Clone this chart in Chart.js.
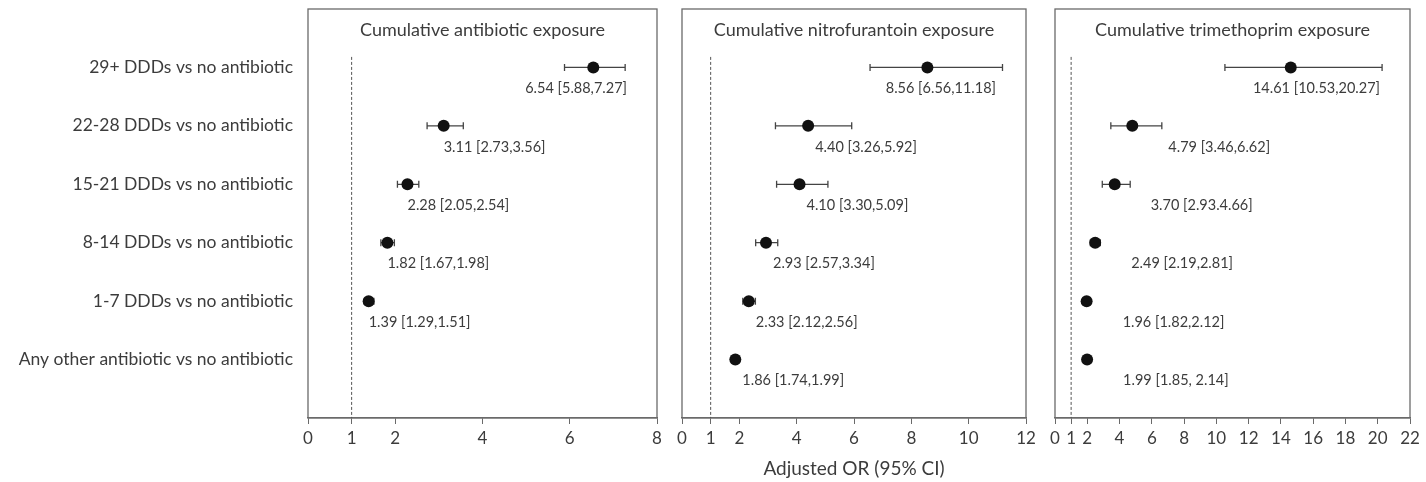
<!DOCTYPE html>
<html>
<head>
<meta charset="utf-8">
<script src="https://cdn.jsdelivr.net/npm/chart.js@4/dist/chart.umd.min.js"></script>
<style>
  body { margin: 0; background: #fff; }
  .wrap { position: relative; width: 1426px; height: 482px; }
  .panel { position: absolute; top: 0; height: 482px; }
</style>
</head>
<body>
<div class="wrap">
  <div class="panel" style="left:0;width:668px"><canvas id="c1"></canvas></div>
  <div class="panel" style="left:668px;width:374px"><canvas id="c2"></canvas></div>
  <div class="panel" style="left:1042px;width:384px"><canvas id="c3"></canvas></div>
</div>
<script>
// Row labels (top to bottom)
const categories = [
    '29+ DDDs vs no antibiotic',
    '22-28 DDDs vs no antibiotic',
    '15-21 DDDs vs no antibiotic',
    '8-14 DDDs vs no antibiotic',
    '1-7 DDDs vs no antibiotic',
    'Any other antibiotic vs no antibiotic'
];

// Cumulative antibiotic exposure
const abOR = [6.54, 3.11, 2.28, 1.82, 1.39, null];
const abLo = [5.88, 2.73, 2.05, 1.67, 1.29, null];
const abHi = [7.27, 3.56, 2.54, 1.98, 1.51, null];
const abText = ['6.54 [5.88,7.27]', '3.11 [2.73,3.56]', '2.28 [2.05,2.54]', '1.82 [1.67,1.98]', '1.39 [1.29,1.51]', null];
const abTicks = [0, 1, 2, 4, 6, 8];

// Cumulative nitrofurantoin exposure
const nfOR = [8.56, 4.40, 4.10, 2.93, 2.33, 1.86];
const nfLo = [6.56, 3.26, 3.30, 2.57, 2.12, 1.74];
const nfHi = [11.18, 5.92, 5.09, 3.34, 2.56, 1.99];
const nfText = ['8.56 [6.56,11.18]', '4.40 [3.26,5.92]', '4.10 [3.30,5.09]', '2.93 [2.57,3.34]', '2.33 [2.12,2.56]', '1.86 [1.74,1.99]'];
const nfTicks = [0, 1, 2, 4, 6, 8, 10, 12];

// Cumulative trimethoprim exposure
const tmOR = [14.61, 4.79, 3.70, 2.49, 1.96, 1.99];
const tmLo = [10.53, 3.46, 2.93, 2.19, 1.82, 1.85];
const tmHi = [20.27, 6.62, 4.66, 2.81, 2.12, 2.14];
const tmText = ['14.61 [10.53,20.27]', '4.79 [3.46,6.62]', '3.70 [2.93.4.66]', '2.49 [2.19,2.81]', '1.96 [1.82,2.12]', '1.99 [1.85, 2.14]'];
const tmTicks = [0, 1, 2, 4, 6, 8, 10, 12, 14, 16, 18, 20, 22];

const FONT = 'Lato, "Open Sans", sans-serif';
const TEXT = '#3c3c3c';
const LINE = '#6a6a6a';

// Draws the panel box, reference line, CI whiskers, value labels and panel title
const forestPlugin = {
    id: 'forest',
    beforeDatasetsDraw(chart, args, opts) {
        const { ctx, chartArea: a, scales: { x, y } } = chart;
        ctx.save();
        // box
        ctx.strokeStyle = LINE;
        ctx.lineWidth = 1.3;
        ctx.strokeRect(a.left, a.top, a.right - a.left, a.bottom - a.top);
        // dashed line at OR = 1
        ctx.strokeStyle = '#555';
        ctx.lineWidth = 1;
        ctx.setLineDash([3, 2]);
        ctx.beginPath();
        ctx.moveTo(x.getPixelForValue(1), y.getPixelForValue(-0.18));
        ctx.lineTo(x.getPixelForValue(1), a.bottom);
        ctx.stroke();
        ctx.setLineDash([]);
        // whiskers
        ctx.strokeStyle = '#444';
        ctx.lineWidth = 1.3;
        opts.lo.forEach((lo, i) => {
            if (lo == null) return;
            const x1 = x.getPixelForValue(lo);
            const x2 = x.getPixelForValue(opts.hi[i]);
            const py = y.getPixelForValue(i);
            ctx.beginPath();
            ctx.moveTo(x1, py); ctx.lineTo(x2, py);
            ctx.moveTo(x1, py - 3.5); ctx.lineTo(x1, py + 3.5);
            ctx.moveTo(x2, py - 3.5); ctx.lineTo(x2, py + 3.5);
            ctx.stroke();
        });
        ctx.restore();
    },
    afterDraw(chart, args, opts) {
        const { ctx, chartArea: a, scales: { x, y } } = chart;
        ctx.save();
        ctx.fillStyle = TEXT;
        ctx.textBaseline = 'middle';
        // title
        ctx.font = '18px ' + FONT;
        ctx.textAlign = 'center';
        ctx.fillText(opts.title, (a.left + a.right) / 2, a.top + 21);
        // value labels, kept inside the box
        ctx.font = '14.5px ' + FONT;
        ctx.textAlign = 'left';
        opts.text.forEach((t, i) => {
            if (t == null) return;
            const w = ctx.measureText(t).width;
            let lx = x.getPixelForValue(opts.or[i]) + opts.shift;
            if (lx + w > a.right - 30) lx = a.right - 30 - w;
            ctx.fillText(t, lx, y.getPixelForValue(i) + 21);
        });
        ctx.restore();
    }
};

function makePanel(id, or, lo, hi, text, ticks, title, shift, pad, showY, showTitle) {
    const points = [];
    or.forEach((v, i) => { if (v != null) points.push({ x: v, y: i }); });
    return new Chart(document.getElementById(id), {
        type: 'scatter',
        data: {
            datasets: [{
                data: points,
                pointRadius: 6,
                pointHoverRadius: 6,
                backgroundColor: '#111',
                borderWidth: 0
            }]
        },
        options: {
            responsive: true,
            maintainAspectRatio: false,
            animation: false,
            layout: { padding: pad },
            plugins: {
                legend: { display: false },
                tooltip: { enabled: false },
                forest: { or: or, lo: lo, hi: hi, text: text, title: title, shift: shift }
            },
            scales: {
                x: {
                    type: 'linear',
                    min: ticks[0],
                    max: ticks[ticks.length - 1],
                    afterBuildTicks: (s) => { s.ticks = ticks.map(v => ({ value: v })); },
                    afterFit: (s) => { s.height = 64; },
                    grid: { drawOnChartArea: false, drawTicks: true, tickLength: 6, color: LINE },
                    border: { display: true, color: LINE, width: 1.3 },
                    ticks: { color: TEXT, padding: 4, font: { family: FONT, size: 17 }, maxRotation: 0, autoSkip: false },
                    title: {
                        display: true,
                        text: showTitle ? 'Adjusted OR (95% CI)' : ' ',
                        color: TEXT,
                        font: { family: FONT, size: 19 },
                        padding: { top: 0, bottom: 2 }
                    }
                },
                y: {
                    type: 'linear',
                    reverse: true,
                    min: -1,
                    max: 6,
                    display: showY,
                    afterBuildTicks: (s) => { s.ticks = categories.map((_, i) => ({ value: i })); },
                    afterFit: (s) => {
                        if (showY) s.width = 308;
                        s.paddingTop = 0;
                        s.paddingBottom = 0;
                    },
                    grid: { display: false, drawTicks: false },
                    border: { display: false },
                    ticks: {
                        color: TEXT,
                        padding: 15,
                        font: { family: FONT, size: 17.5 },
                        callback: (v) => categories[v]
                    }
                }
            }
        },
        plugins: [forestPlugin]
    });
}

makePanel('c1', abOR, abLo, abHi, abText, abTicks, 'Cumulative antibiotic exposure', 0,
    { top: 9, right: 11, left: 0, bottom: 0 }, true, false);
makePanel('c2', nfOR, nfLo, nfHi, nfText, nfTicks, 'Cumulative nitrofurantoin exposure', 7,
    { top: 9, right: 16, left: 14, bottom: 0 }, false, true);
makePanel('c3', tmOR, tmLo, tmHi, tmText, tmTicks, 'Cumulative trimethoprim exposure', 36,
    { top: 9, right: 16, left: 13, bottom: 0 }, false, false);
</script>
</body>
</html>
